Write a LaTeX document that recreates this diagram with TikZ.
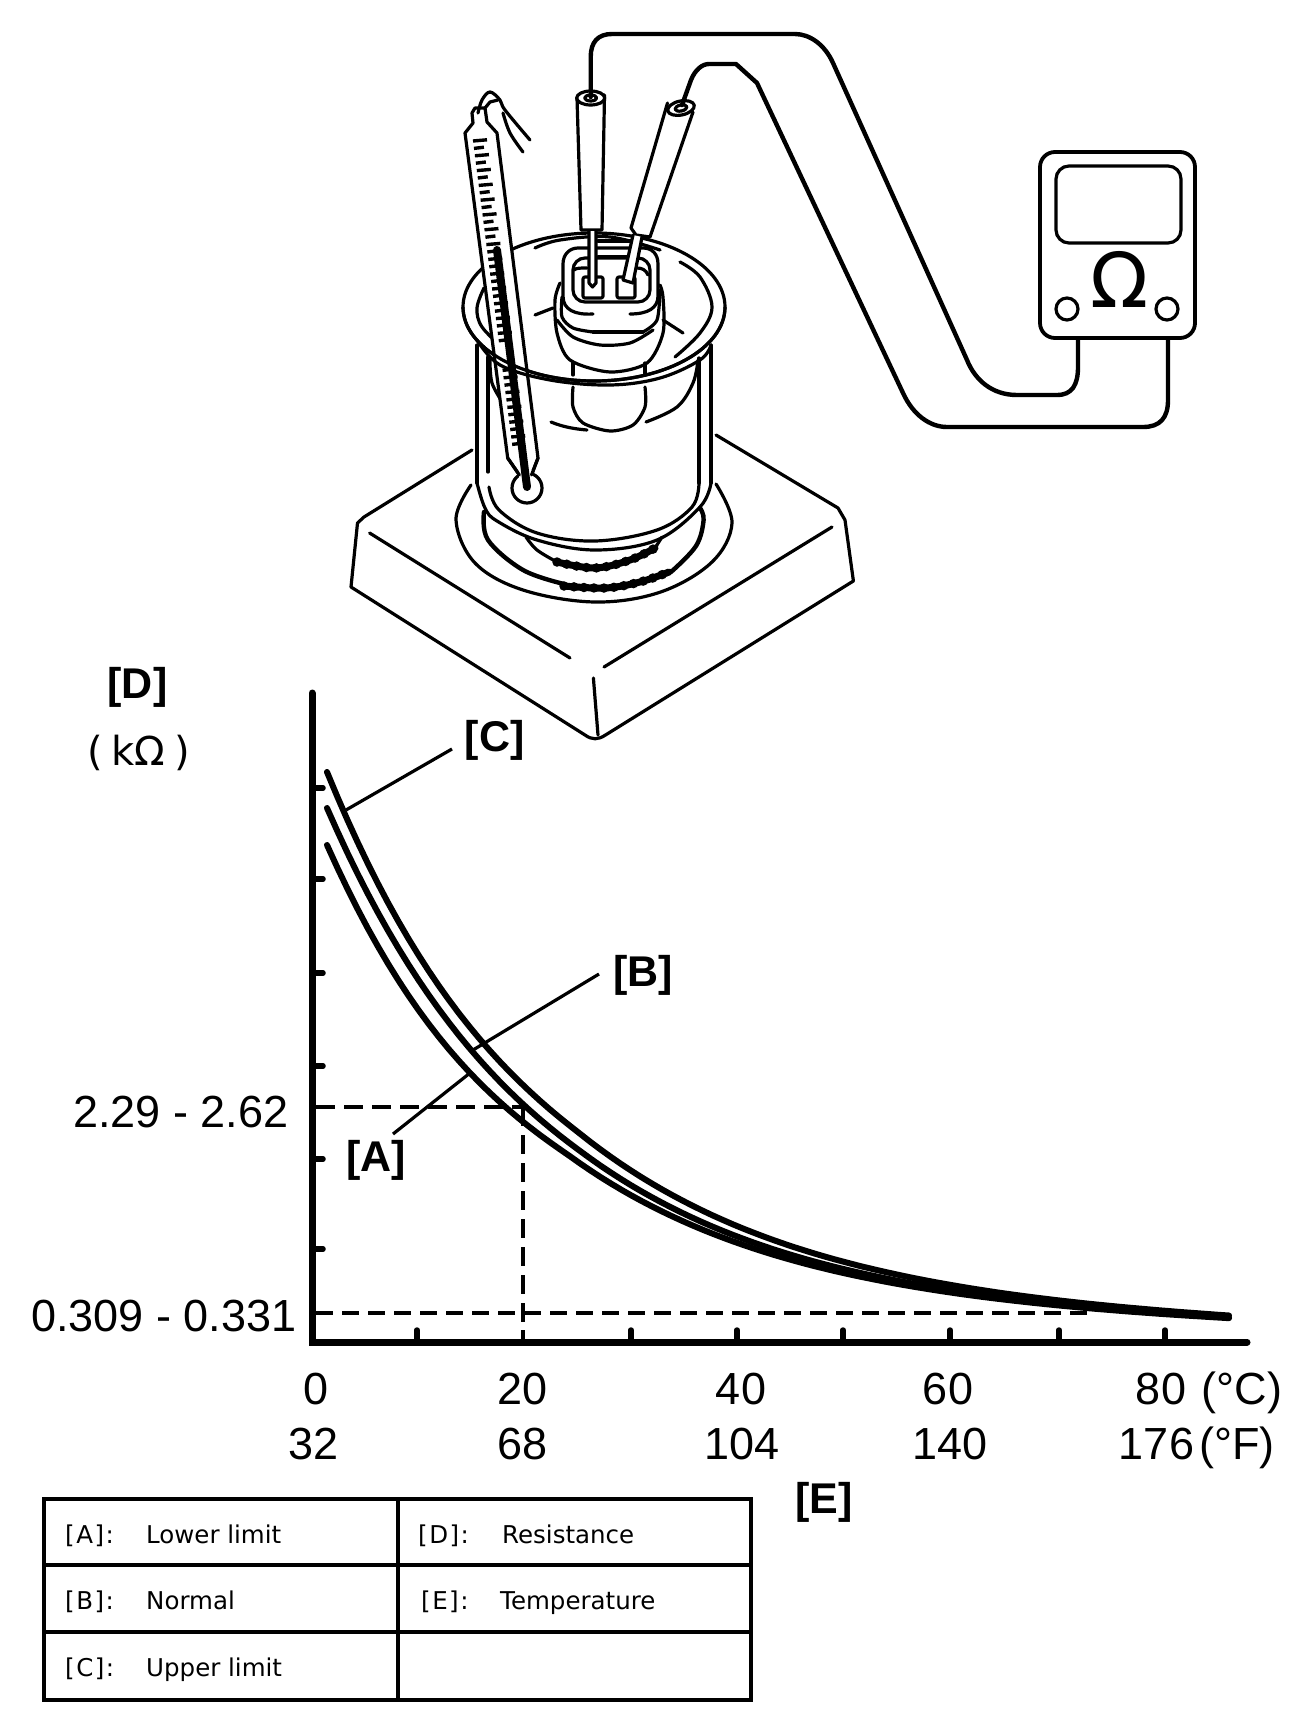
\documentclass[tikz,border=0pt]{standalone}
\usepackage{fontspec}
\setmainfont{Liberation Sans}
\newfontfamily\djsans{DejaVu Sans}
\tikzset{
  thin line/.style={line width=3.2pt,line join=round,line cap=round},
  wire line/.style={line width=4.4pt,line join=round,line cap=round},
  curve line/.style={line width=6pt,line cap=round},
  lead line/.style={line width=3.2pt},
  axis line/.style={line width=7pt,line cap=round},
  tick line/.style={line width=5.5pt,line cap=round},
  guide line/.style={line width=3.3pt,dash pattern=on 19pt off 9pt},
  num/.style={inner sep=0pt,anchor=base,font=\fontsize{45}{50}\selectfont},
  tag/.style={inner sep=0pt,font=\fontsize{43}{48}\selectfont\bfseries},
  cell/.style={inner sep=0pt,anchor=base west,font=\djsans\fontsize{24.5}{28}\selectfont},
  grid line/.style={line width=4.4pt},
}
\newcommand{\keytext}[1]{[\hspace{1.5pt}#1\hspace{1.5pt}]\hspace{1.5pt}:}
\begin{document}
\begin{tikzpicture}[x=1pt,y=-1pt]
\useasboundingbox (0,0) rectangle (1312,1726);
\fill[white] (0,0) rectangle (1312,1726);

% ---------- hot plate
\draw[thin line] (472,450) -- (364,517) -- (357.5,523) -- (351,587) -- (585,735) .. controls (592,740) and (598,740) .. (605.5,735) -- (853.4,581) -- (845,520) -- (838,508) -- (716,435);
\draw[thin line] (369.6,533) -- (570,658);
\draw[thin line] (604,667) -- (832,527);
\draw[thin line] (593.4,678) -- (598,735);
\draw[thin line] plot[smooth,tension=0.6] coordinates {(471,485) (456,520) (475,563) (523,590) (595,602) (660.6,592) (712,562) (732,523) (716,484)};
\draw[wire line] plot[smooth,tension=0.6] coordinates {(484,512) (488,540) (523,570) (564,584)};
\draw[wire line] plot[smooth,tension=0.6] coordinates {(671,572) (696,546) (703.6,520) (700,508)};
\draw[line width=7pt,line cap=round] plot[smooth,tension=0.6] coordinates {(564,586) (605.5,588) (640,582) (669,572)};
\draw[line width=9.5pt,line cap=round,dash pattern=on 0pt off 10pt] plot[smooth,tension=0.6] coordinates {(564,586) (605.5,588) (640,582) (669,572)};
\draw[thin line] plot[smooth,tension=0.6] coordinates {(526,537) (537,550) (557,562)};
\draw[line width=7pt,line cap=round] plot[smooth,tension=0.6] coordinates {(557,562) (595,568) (630,560) (655,548)};
\draw[line width=9.5pt,line cap=round,dash pattern=on 0pt off 10pt] plot[smooth,tension=0.6] coordinates {(557,562) (595,568) (630,560) (655,548)};
\draw[thin line] (655,548) -- (662,537);

% ---------- beaker
\draw[thin line] (477,345) -- (477,483);
\draw[thin line] (711,345) -- (711,483);
\draw[thin line] (488,357) -- (488,472);
\draw[thin line] (699,358) -- (699,483);
\draw[thin line] plot[smooth,tension=0.6] coordinates {(477,483) (485,508) (497,521) (537,540) (595,550) (657,540) (700,507) (711,483)};
\draw[thin line] plot[smooth,tension=0.6] coordinates {(489,487) (499,510) (537,533) (595,541) (657,530) (692,507) (699,483)};
\draw[thin line] plot[smooth,tension=0.6] coordinates {(490,360) (492,383) (503,403)};
\draw[thin line] plot[smooth,tension=0.6] coordinates {(646,422) (677,407) (693,383) (698,360)};
\draw[thin line] (551,422) .. controls (563,427) and (575,429) .. (587,430);

% rim
\draw[thin line] (594,307) ellipse [x radius=131pt,y radius=74pt];
\draw[thin line] plot[smooth,tension=0.6] coordinates {(535,248) (560,240) (610,237) (660,250)};
\draw[thin line] plot[smooth,tension=0.6] coordinates {(680,262) (700,277) (712,307) (700,333) (675,357)};
\draw[thin line] plot[smooth,tension=0.6] coordinates {(484,288) (477,308) (482,327) (503,348)};

% ---------- sensor body and connector
\draw[thin line] plot[smooth,tension=0.5] coordinates {(573,387) (573,407) (583,423) (610,431) (633,425) (645,407) (645,387)};
\draw[thin line] (573,363) -- (573,375);
\draw[thin line] (645,363) -- (645,375);
\draw[thin line] plot[smooth,tension=0.5] coordinates {(560,283) (555,300) (557,333) (570,360) (610,372) (647,363) (663,333) (663,297) (660,285)};
\draw[thin line] plot[smooth,tension=0.5] coordinates {(562,297) (562,317) (573,328) (593,332)};
\draw[thin line] (593,332) -- (643,332);
\draw[thin line] plot[smooth,tension=0.5] coordinates {(643,332) (657,320) (660,290)};
\draw[thin line] plot[smooth,tension=0.5] coordinates {(557,320) (573,337) (600,345) (630,343) (653,330)};
\draw[thin line] (593,314) .. controls (575,315) and (563,310) .. (563,296) -- (563,264) .. controls (563,254) and (570,248) .. (578,248) -- (643,248) .. controls (652,248) and (658,254) .. (658,264) -- (658,296) .. controls (658,308) and (648,314) .. (630,314);
\draw[thin line,rounded corners=12pt] (573,258) rectangle (650,302);
\draw[thin line] (574,270) .. controls (576,268) and (580,268) .. (587,268);
\draw[thin line] (637,268) .. controls (642,268) and (646,270) .. (648,275);
\draw[thin line] (598,241) -- (632,241);
\draw[thin line] (598,257) -- (630,257);
\draw[thin line] (535,315) -- (553,308);
\draw[thin line] (663,320) -- (683,333);
\draw[thin line,rounded corners=2pt] (583,277) rectangle (603,298);
\draw[thin line,rounded corners=2pt] (617,277) rectangle (635,298);

% ---------- test probes
\draw[thin line,fill=white] (577,98) -- (581,230) -- (602,230) -- (604.5,95);
\draw[thin line,fill=white] (590.7,98) ellipse [x radius=14pt,y radius=7pt];
\draw[thin line,fill=white] (590.7,98) ellipse [x radius=6pt,y radius=3pt];
\draw[thin line,fill=white] (589,231) -- (589,283) -- (592.5,287) -- (596,283) -- (596,231);
\draw[thin line,fill=white] (667.5,103) -- (631,228) -- (636,235) -- (650,237) -- (693,112);
\draw[thin line,fill=white,rotate around={12:(681,108)}] (681,108) ellipse [x radius=13.5pt,y radius=7pt];
\draw[thin line,fill=white,rotate around={12:(681,108)}] (681,108) ellipse [x radius=6pt,y radius=3pt];
\draw[thin line,fill=white] (633,235) -- (623,280) -- (633,283) -- (642,237);

% ---------- leads to the meter
\coordinate (probeA) at (590.7,97);
\coordinate (probeB) at (682,105);
\coordinate (meterA) at (1078,338);
\coordinate (meterB) at (1168,338);
\draw[wire line] (probeA) -- (590.7,57) .. controls (590.7,42) and (598,34) .. (612,34) -- (795,34) .. controls (810,34) and (825,45) .. (833,63) -- (967,360) .. controls (975,380) and (992,395) .. (1017,395) -- (1057,395) .. controls (1072,395) and (1078,385) .. (1078,367) -- (meterA);
\draw[wire line] (probeB) -- (691,80) .. controls (695,70) and (702,64) .. (709,64) -- (736,64) -- (757,83) -- (903,393) .. controls (913,415) and (930,427) .. (947,427) -- (1143,427) .. controls (1160,427) and (1168,418) .. (1168,400) -- (meterB);

% ---------- thermometer
\draw[thin line,fill=white] (480,108) -- (475,108) -- (472,113) -- (473,123) -- (465,133) -- (507.7,458) -- (519.4,475) -- (531.5,475) -- (538,458) -- (537,450) -- (497,133) -- (487,122) -- (485,108) -- cycle;
\draw[thin line,fill=white] (527,488) circle (15pt);
\fill[white] (519,470) rectangle (533,480);
\draw[thin line] (507.7,458) -- (519.4,475);
\draw[thin line] (538,458) -- (531.5,475);
\draw[thin line] plot[smooth,tension=0.6] coordinates {(478,113) (482,100) (490,92) (500,100) (505,110) (530,140)};
\draw[thin line] plot[smooth,tension=0.6] coordinates {(503,113) (510,133) (523,152)};
\draw[thin line] (485,108) -- (490,102) -- (498,100);
\foreach \k in {0,...,41}{
  \pgfmathsetmacro{\ty}{141+7.4*\k}
  \pgfmathsetmacro{\tx}{473+0.129*(\ty-141)}
  \pgfmathsetmacro{\tl}{ifthenelse(mod(\k,2)==0,14,10)}
  \pgfmathparse{(\ty>342 && \ty<366) ? 0 : 1}
  \ifnum\pgfmathresult>0
    \draw[line width=3.4pt] (\tx,\ty) -- ++(\tl,-1.2);
  \fi
}
% front of the rim over the thermometer
\begin{scope}
  \clip (440,307) rectangle (750,400);
  \draw[thin line] (594,307) ellipse [x radius=131pt,y radius=74pt];
\end{scope}
\draw[thin line] plot[smooth,tension=0.6] coordinates {(477,340) (500,365) (550,380) (610,385) (660,378) (700,360) (711,345)};
\draw[line width=8pt,line cap=round] (497,250) -- (527,487);

% ---------- ohmmeter
\draw[line width=3.8pt,fill=white,rounded corners=15pt] (1040,152) rectangle (1195,338);
\draw[line width=3.2pt,rounded corners=13pt] (1056,166) rectangle (1181,243);
\draw[line width=3.2pt] (1067,309) circle (11pt);
\draw[line width=3.2pt] (1167,309) circle (11pt);
\node[inner sep=0pt,font=\djsans\fontsize{76}{80}\selectfont] (ohm) at (1120,279) {Ω};

% ---------- chart axes
\draw[axis line] (312,693) -- (312,1342) -- (1247,1342);
\foreach \ty in {788,879,973,1066,1159,1249}
  \draw[tick line] (312,\ty) -- (323,\ty);
\foreach \tx in {417,631,737,843,950,1059,1165}
  \draw[tick line] (\tx,1342) -- (\tx,1330);
\draw[line width=4pt] (523,1342) -- (523,1330);
\coordinate (midY) at (316,1107);
\coordinate (midX) at (523,1107);
\coordinate (lowY) at (316,1313);
\coordinate (lowX) at (1093,1313);
\coordinate (footX) at (523,1338);
\draw[guide line] (midY) -- (midX);
\draw[guide line,line width=4pt] (midX) -- (footX);
\draw[guide line,dash pattern=on 17pt off 9pt] (lowY) -- (lowX);

% ---------- curves
\draw[curve line] plot[domain=327:1229,samples=90] ({\x},{1325-553*exp(-0.0042*(\x-327)-0.02*sin(min(\x-327,250)*0.72))+3*(max(\x-827,0)/400)^2});
\draw[curve line] plot[domain=327:1229,samples=90] ({\x},{1325-517*exp(-0.0043*(\x-327)-0.012*sin(min(\x-327,250)*0.72))+3*(max(\x-827,0)/400)^2});
\draw[curve line] plot[domain=327:1229,samples=90] ({\x},{1325-480*exp(-0.0043*(\x-327)-0.03*sin(min(\x-327,240)*0.75))+3*(max(\x-827,0)/400)^2});

% ---------- callouts
\node[tag] (tagD) at (137.5,687) {[D]};
\node[inner sep=0pt,font=\djsans\fontsize{40}{46}\selectfont] (unit) at (138.5,753) {(\hspace{9pt}kΩ\hspace{9pt})};
\node[tag] (tagC) at (494.6,740) {[C]};
\node[tag] (tagB) at (643,975) {[B]};
\node[tag] (tagA) at (376,1160) {[A]};
\node[tag] (tagE) at (824,1502) {[E]};
\coordinate (curveC) at (346,810);
\coordinate (leadC) at (452,749);
\coordinate (curveB) at (473,1050);
\coordinate (leadB) at (599,974);
\coordinate (curveA) at (470,1073);
\coordinate (leadA) at (393,1134);
\draw[lead line] (leadC) -- (curveC);
\draw[lead line] (leadB) -- (curveB);
\draw[lead line] (leadA) -- (curveA);

% ---------- axis numbers
\node[num] (yMid) at (181,1127) {2.29 - 2.62};
\node[num] (yLow) at (164,1331) {0.309 - 0.331};
\node[num] (c0) at (316,1404) {0};
\node[num] (c20) at (523,1404) {20};
\node[num] (c40) at (741,1404) {40};
\node[num] (c60) at (948,1404) {60};
\node[num] (c80) at (1161,1404) {80};
\node[num] (cU) at (1242,1404) {(°C)};
\node[num] (f32) at (314,1459) {32};
\node[num] (f68) at (523,1459) {68};
\node[num] (f104) at (742,1459) {104};
\node[num] (f140) at (950,1459) {140};
\node[num] (f176) at (1156.5,1459) {176};
\node[num] (fU) at (1237,1459) {(°F)};

% ---------- key table
\draw[grid line] (44,1499) rectangle (751,1700);
\draw[grid line] (44,1565) -- (751,1565);
\draw[grid line] (44,1632) -- (751,1632);
\draw[line width=3.2pt] (398,1499) -- (398,1700);
\node[cell] (kA) at (65,1543) {\keytext{A}};
\node[cell] (vA) at (146,1543) {Lower limit};
\node[cell] (kB) at (65,1609) {\keytext{B}};
\node[cell] (vB) at (146,1609) {Normal};
\node[cell] (kC) at (65,1676) {\keytext{C}};
\node[cell] (vC) at (146,1676) {Upper limit};
\node[cell] (kD) at (418,1543) {\keytext{D}};
\node[cell] (vD) at (502,1543) {Resistance};
\node[cell] (kE) at (421,1609) {\keytext{E}};
\node[cell] (vE) at (500,1609) {Temperature};
\end{tikzpicture}
\end{document}
